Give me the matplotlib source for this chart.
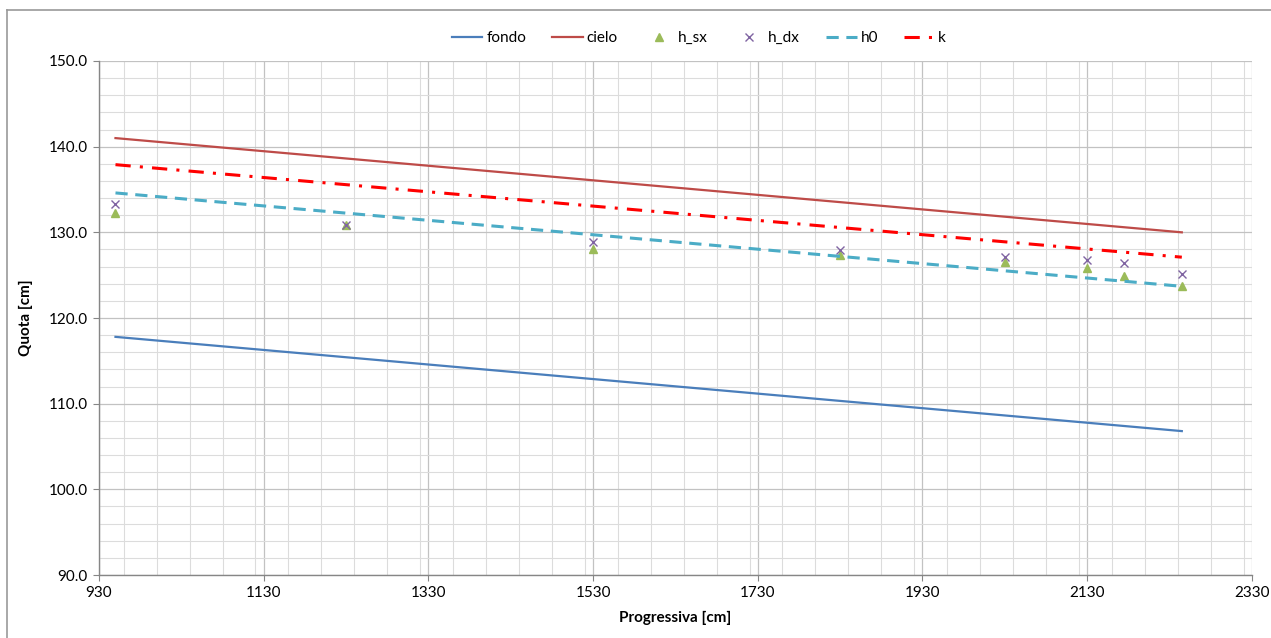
import matplotlib.pyplot as plt
import numpy as np
from matplotlib.lines import Line2D
from matplotlib.ticker import MultipleLocator, FormatStrFormatter

plt.rcParams['font.family'] = ['Lato', 'DejaVu Sans']

# sezioni di misura
prog = [950, 1230, 1530, 1830, 2030, 2130, 2175, 2245]
h_sx = [132.3, 130.8, 128.1, 127.3, 126.5, 125.8, 124.9, 123.7]
h_dx = [133.3, 130.8, 128.9, 127.9, 127.1, 126.8, 126.4, 125.1]

# linee (estremi)
prog_lin = [950, 2245]
fondo = [117.8, 106.8]
cielo = [141.0, 130.0]
h0 = [134.6, 123.7]
k = [137.9, 127.1]

fig = plt.figure(figsize=(12.71, 6.38), dpi=100)
ax = fig.add_axes([0.0779, 0.0987, 0.907, 0.8057])

ax.plot(prog_lin, fondo, c='#4a7ebb', lw=1.6, label='fondo')
ax.plot(prog_lin, cielo, c='#be4b48', lw=1.6, label='cielo')
ax.plot(prog, h_sx, ls='none', marker='^', ms=6, c='#9bbb59', label='h_sx')
ax.plot(prog, h_dx, ls='none', marker='x', ms=6, mew=1, c='#8064a2', label='h_dx')
ax.plot(prog_lin, h0, c='#4bacc6', lw=2.2, ls=(0, (4, 2.5)), label='h0')
ax.plot(prog_lin, k, c='#ff0000', lw=2.2, ls=(0, (5, 3, 1, 3)), label='k')

ax.set_xlim(930, 2330)
ax.set_ylim(90, 150)
ax.xaxis.set_major_locator(MultipleLocator(200))
ax.xaxis.set_minor_locator(MultipleLocator(40))
ax.yaxis.set_major_locator(MultipleLocator(10))
ax.yaxis.set_minor_locator(MultipleLocator(2))
ax.yaxis.set_major_formatter(FormatStrFormatter('%.1f'))
ax.grid(which='major', color='#c2c2c2', lw=0.9)
ax.grid(which='minor', color='#dcdcdc', lw=0.8)
ax.set_axisbelow(True)
ax.tick_params(which='major', length=4, color='#868686', labelsize=11, pad=4)
ax.tick_params(which='minor', length=0)
for s in ['top', 'right']:
    ax.spines[s].set_visible(False)
for s in ['left', 'bottom']:
    ax.spines[s].set_color('#868686')
    ax.spines[s].set_linewidth(1.0)
ax.set_xticks(np.arange(930, 2331, 200))

ax.set_xlabel('Progressiva [cm]', fontsize=11, fontweight='bold', labelpad=8)
ax.set_ylabel('Quota [cm]', fontsize=11, fontweight='bold')
ax.yaxis.set_label_coords(-0.057, 0.5)

fig.legend(loc='center', bbox_to_anchor=(0.55, 0.94), ncol=6, frameon=False,
           fontsize=11, handlelength=2.0, columnspacing=1.7, handletextpad=0.25)

# cornice del grafico
fig.add_artist(Line2D([7 / 1271, 7 / 1271], [0, 1 - 10 / 638], color='#999999', lw=1.2))
fig.add_artist(Line2D([7 / 1271, 1], [1 - 10 / 638, 1 - 10 / 638], color='#999999', lw=1.2))

fig.savefig('out.png', dpi=100)
